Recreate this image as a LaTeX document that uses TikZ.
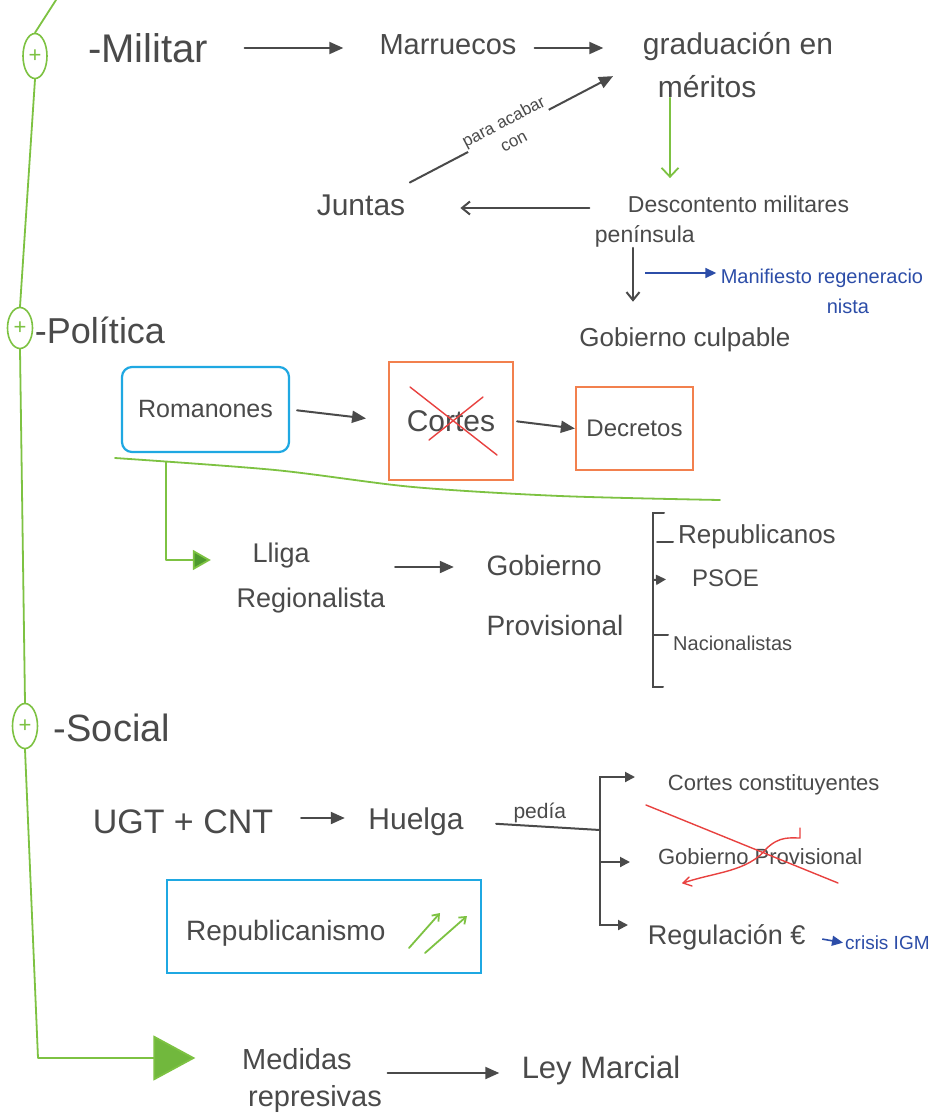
\documentclass[tikz,border=0pt]{standalone}
\usepackage{fontspec}
\setmainfont{Liberation Sans}
\usetikzlibrary{arrows.meta,shapes.geometric}
\definecolor{pencil}{HTML}{4A4A4A}
\definecolor{lgreen}{HTML}{7DC242}
\definecolor{dgreen}{HTML}{4E9A2E}
\definecolor{cyanb}{HTML}{1FA8E2}
\definecolor{orangeb}{HTML}{F2804E}
\definecolor{redx}{HTML}{E8413F}
\definecolor{inkblue}{HTML}{2C4DA8}
\begin{document}
\begin{tikzpicture}[x=1pt,y=-1pt,
  fs/.style={font=\fontsize{#1}{#1}\selectfont},
  txt/.style={text=pencil,inner sep=0pt,align=center},
  btxt/.style={text=inkblue,inner sep=0pt,align=left},
  gl/.style={draw=lgreen,line width=1.8pt,line cap=round,line join=round},
  pl/.style={draw=pencil,line width=2pt,line cap=round},
  arr/.style={pl,-{Triangle[length=14pt,width=12pt]}},
  sarr/.style={pl,-{Triangle[length=10pt,width=10pt]}},
  oarr/.style={pl,-{Straight Barb[length=8pt,width=13pt]}},
  barr/.style={draw=inkblue,line width=1.6pt,-{Triangle[length=11pt,width=10pt]}},
  garr/.style={gl,-{Triangle[length=18pt,width=20pt,fill=dgreen]}},
  gbig/.style={gl,-{Triangle[length=42pt,width=45pt,fill=lgreen!75!dgreen]}},
  gplus/.style={ellipse,draw=lgreen,line width=1.6pt,inner sep=0pt,text=lgreen,font=\fontsize{22}{22}\selectfont},
  cbox/.style={draw=cyanb,line width=2.2pt,rounded corners=10pt,inner sep=0pt},
  obox/.style={draw=orangeb,line width=2.2pt,inner sep=0pt},
  rx/.style={draw=redx,line width=1.4pt,line cap=round,line join=round},
]
\useasboundingbox[fill=white] (0,0) rectangle (932,1120);

% ---- trunk circles
\node[gplus,minimum width=24pt,minimum height=45pt] (c1) at (35,56) {+};
\node[gplus,minimum width=25pt,minimum height=41pt] (c2) at (20,328) {+};
\node[gplus,minimum width=25pt,minimum height=45pt] (c3) at (25,726) {+};
\coordinate (gtop) at (56,0);

% ---- Militar
\node[txt,fs=40,minimum width=127pt] (mil) at (148,48) {-Militar};
\node[txt,fs=29,minimum width=137pt] (mar) at (448,45) {Marruecos};
\node[txt,fs=30,align=left,minimum width=207pt] (grad) at (738,65) {graduación en\\[13pt]\hspace*{15pt}méritos};
\node[txt,fs=30,minimum width=88pt,minimum height=40pt] (jun) at (361,205) {Juntas};
\node[txt,fs=23,align=left,minimum width=261pt] (desc) at (722,222) {\hspace*{33pt}Descontento militares\\[7pt]península};
\node[btxt,fs=20,minimum width=211pt] (mani) at (822,291) {Manifiesto regeneracio\\[10pt]\hspace*{106pt}nista};
\node[txt,fs=26,minimum width=216pt] (gob) at (685,340) {Gobierno culpable};

% ---- Politica
\node[txt,fs=36,minimum width=131pt] (pol) at (100,330) {-Política};
\node[cbox,minimum width=167pt,minimum height=85pt,text=pencil,fs=25] (rom) at (205.5,409.5) {Romanones};
\node[obox,minimum width=124pt,minimum height=118pt,text=pencil,fs=30] (cor) at (451,421) {Cortes};
\node[obox,minimum width=117pt,minimum height=83pt,text=pencil,fs=24] (dec) at (634.5,428.5) {Decretos};
\node[txt,fs=27,align=left,minimum width=150pt] (lli) at (311,578) {\hspace*{16pt}Lliga\\[18pt]Regionalista};
\node[txt,fs=28,align=left,minimum width=144pt] (gprov) at (555,595) {Gobierno\\[32pt]Provisional};
\node[txt,fs=26,anchor=west] (rep) at (678,537) {Republicanos};
\node[txt,fs=24,anchor=west] (psoe) at (692,578) {PSOE};
\node[txt,fs=20,anchor=west] (nac) at (673,643) {Nacionalistas};

% ---- Social
\node[txt,fs=38,minimum width=124pt] (soc) at (112,728) {-Social};
\node[txt,fs=34,minimum width=198pt] (ugt) at (183,822) {UGT + CNT};
\node[txt,fs=30,minimum width=100pt] (hue) at (416,822) {Huelga};
\node[txt,fs=22,anchor=west,minimum width=237pt] (cc) at (655,785) {Cortes constituyentes};
\node[txt,fs=22,anchor=west,minimum width=210pt] (gp2) at (655,857) {Gobierno Provisional};
\node[txt,fs=27,anchor=west,minimum width=167pt] (reg) at (643,937) {Regulación €};
\node[btxt,fs=19,anchor=west] (cri) at (845,943) {crisis IGM};
\node[cbox,rounded corners=0pt,minimum width=314pt,minimum height=93pt] (rbox) at (324,926.5) {};
\node[txt,fs=28,anchor=west] (rtxt) at (186,933) {Republicanismo};
\node[txt,fs=29,align=left,minimum width=151pt] (med) at (312,1080) {Medidas\\[8pt]\hspace*{6pt}represivas};
\node[txt,fs=31,minimum width=163pt] (ley) at (601,1070) {Ley Marcial};

% ---- green trunk
\draw[gl] (gtop) -- (c1.north);
\draw[gl] (c1.south) -- (c2.north);
\draw[gl] (c2.south) -- (c3.north);
\draw[gbig,shorten >=41pt] (c3.south) -- (38,1058) -- ([yshift=22pt]med.west);

% ---- Militar connectors
\draw[arr,shorten <=33pt,shorten >=36pt] (mil.east) -- (mil.east -| mar.west);
\draw[arr,shorten <=18pt,shorten >=31pt] ([yshift=-3pt]mar.east) -- ([yshift=-3pt]mar.east -| grad.west);
\draw[arr,shorten <=5pt,shorten >=24pt] (jun.north east) -- node[pos=0.45,sloped,fill=white,inner sep=3pt,txt,fs=17]{para acabar\\[5pt]con} (grad.west);
\draw[gl,-{Straight Barb[length=9pt,width=17pt]},shorten >=18pt] ([xshift=-68pt]grad.south) -- ([xshift=-68pt]grad.south |- desc.north);
\draw[oarr,shorten <=2pt,shorten >=55pt] ([yshift=14pt]desc.west) -- ([yshift=14pt]desc.west -| jun.east);
\draw[oarr,shorten >=26pt] ([xshift=-89pt]desc.south) -- ([xshift=-89pt]desc.south |- gob.north);
\coordinate (bj) at (645,273);
\draw[barr] (bj) -- ([yshift=18pt]mani.west);

% ---- Politica connectors
\draw[arr,shorten <=7pt,shorten >=22pt] (rom.east) -- (cor.west);
\draw[arr,shorten <=3pt] (cor.east) -- (dec.west);
\draw[gl] plot[smooth] coordinates {(115,458) (275,470) (413,487) (560,496) (720,500)};
\coordinate (gj) at (166,462);
\draw[garr,shorten >=25pt] (gj) |- ([yshift=18pt]lli.west);
\draw[arr,shorten <=9pt,shorten >=29pt] ([yshift=11pt]lli.east) -- ([yshift=11pt]lli.east -| gprov.west);
\draw[pl] (664,513) -- (653,513) -- (653,687) -- (663,687);
\draw[pl,shorten <=5pt] ([yshift=-5pt]rep.west) -- ++(-21,0);
\coordinate (bk) at (653,580);
\draw[sarr,shorten >=26pt] (bk) -- (psoe.west);
\draw[pl,shorten <=5pt] ([yshift=8pt]nac.west) -- ++(-20,0);

% ---- Social connectors
\draw[arr,shorten <=19pt,shorten >=21pt] ([yshift=4pt]ugt.east) -- ([yshift=4pt]ugt.east -| hue.west);
\coordinate (brj) at (600,830);
\draw[pl,shorten <=30pt] (hue.east) -- node[pos=0.55,above=3pt,txt,fs=21] (pedia) {pedía} (brj);
\draw[sarr,shorten >=20pt] (brj) |- ([yshift=8pt]cc.west);
\draw[sarr,shorten >=25pt] (brj) |- ([yshift=-5pt]gp2.west);
\draw[sarr,shorten >=15pt] (brj) |- ([yshift=12pt]reg.west);
\draw[barr,shorten <=12pt,shorten >=2pt] (reg.east) -- (cri.west);
\draw[arr,shorten >=20pt] ([yshift=7pt]med.east) -- ([yshift=7pt]med.east -| ley.west);

% ---- crossings and marks
\draw[rx] (410,387) -- (497,455);
\draw[rx] (483,397) -- (429,440);
\draw[rx] (646,805) -- (838,883);
\draw[rx] (689,877) -- (683,883) -- (692,886);
\draw[rx] (683,883) .. controls (715,872) and (748,872) .. (767,848) .. controls (780,836) and (790,838) .. (800,838) -- (800,828);
\draw[gl,-{Straight Barb[length=6pt,width=9pt]}] (409,948) -- (440,913);
\draw[gl,-{Straight Barb[length=6pt,width=9pt]}] (425,953) -- (467,916);
\end{tikzpicture}
\end{document}
